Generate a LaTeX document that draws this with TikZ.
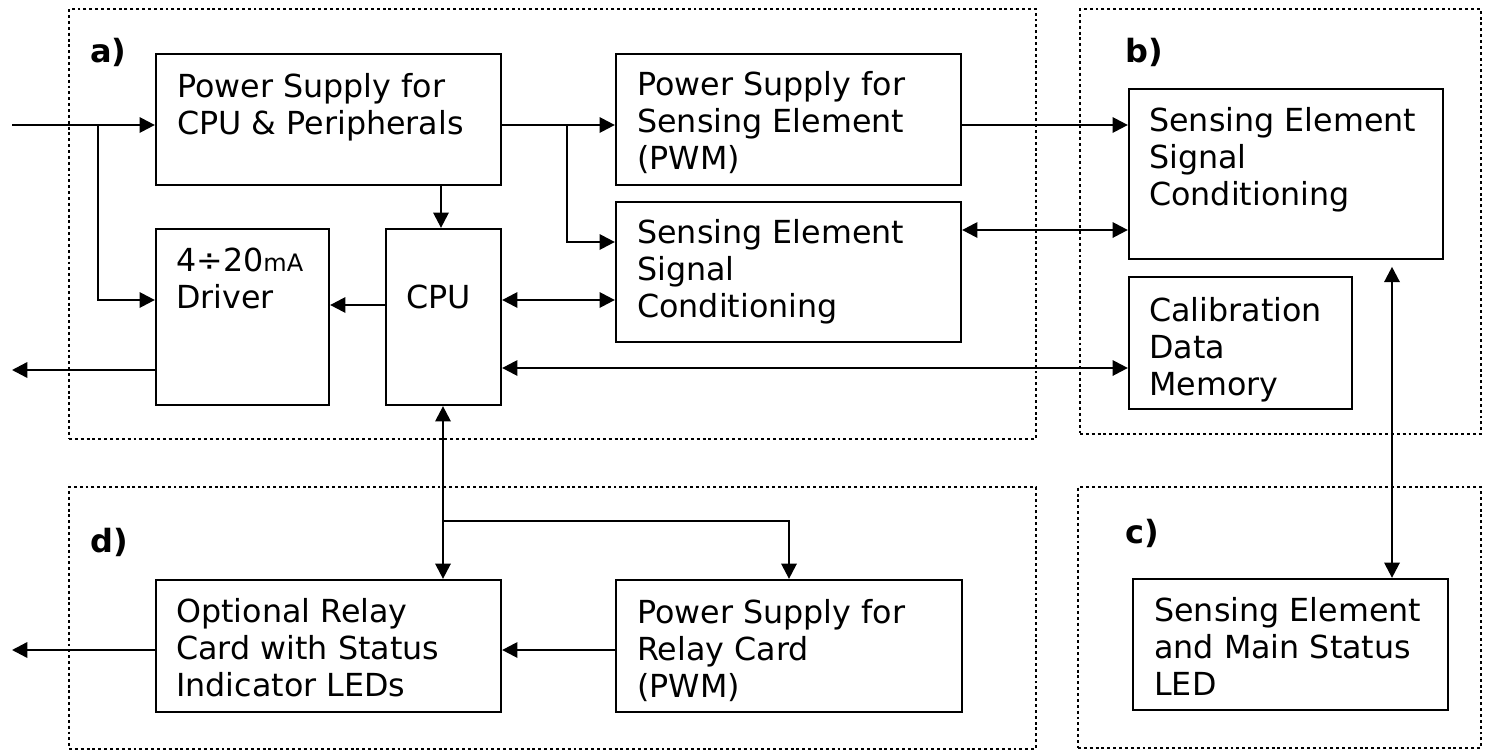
\documentclass[tikz,border=0pt]{standalone}
\usepackage{fontspec}
\setmainfont{DejaVu Sans}
\usetikzlibrary{arrows.meta,calc,fit}
\begin{document}
\begin{tikzpicture}[x=0.75pt,y=-0.75pt,
  box/.style={draw,line width=1.7pt,inner sep=0pt},
  frame/.style={draw,line width=2pt,dash pattern=on 2.2pt off 2.2pt,inner sep=0pt},
  txt/.style={anchor=base west,align=left,inner sep=0pt,font=\fontsize{23.8pt}{27.75pt}\selectfont},
  lbl/.style={anchor=base west,inner sep=0pt,font=\fontsize{24pt}{28pt}\selectfont\bfseries},
  arr/.style={line width=1.8pt,-{Triangle[length=11.5pt,width=11.5pt]}},
  darr/.style={line width=1.8pt,{Triangle[length=11.5pt,width=11.5pt]}-{Triangle[length=11.5pt,width=11.5pt]}}]
\useasboundingbox (0,0) rectangle (1486,753);
% frames
\node[frame,fit={(69,9) (1036,439)}] (fa) {};
\node[frame,fit={(1080,9) (1481,434)}] (fb) {};
\node[frame,fit={(1078,487) (1481,748)}] (fc) {};
\node[frame,fit={(69,487) (1036,749)}] (fd) {};
\node[lbl] (la) at (90,62) {a)};
\node[lbl] (lb) at (1125,62) {b)};
\node[lbl] (lc) at (1125,543) {c)};
\node[lbl] (ld) at (90,552) {d)};
% boxes
\node[box,fit={(156,54) (501,185)}] (pscpu) {};
\node[box,fit={(156,229) (329,405)}] (drv) {};
\node[box,fit={(386,229) (501,405)}] (cpu) {};
\node[box,fit={(616,54) (961,185)}] (pssen) {};
\node[box,fit={(616,202) (961,342)}] (sesc) {};
\node[box,fit={(1129,89) (1443,259)}] (bsesc) {};
\node[box,fit={(1129,277) (1352,409)}] (mem) {};
\node[box,fit={(1133,579) (1448,710)}] (led) {};
\node[box,fit={(156,580) (501,712)}] (relay) {};
\node[box,fit={(616,580) (962,712)}] (psrel) {};
% texts (anchor = baseline of last line)
\node[txt] (t-pscpu) at (177,134) {Power Supply for\\CPU \& Peripherals};
\node[txt] (t-drv) at (176,308) {4÷20{\fontsize{18pt}{20pt}\selectfont mA}\\Driver};
\node[txt] (t-cpu) at (406,308) {CPU};
\node[txt] (t-pssen) at (637,169) {Power Supply for\\Sensing Element\\(PWM)};
\node[txt] (t-sesc) at (637,317) {Sensing Element\\Signal\\Conditioning};
\node[txt] (t-bsesc) at (1149,205) {Sensing Element\\Signal\\Conditioning};
\node[txt] (t-mem) at (1149,395) {Calibration\\Data\\Memory};
\node[txt] (t-led) at (1154,695) {Sensing Element\\and Main Status\\LED};
\node[txt] (t-relay) at (176,696) {Optional Relay\\Card with Status\\Indicator LEDs};
\node[txt] (t-psrel) at (637,697) {Power Supply for\\Relay Card\\(PWM)};
% free ends and junctions
\coordinate (inL) at (12,125);
\coordinate (outD) at (12,370);
\coordinate (outR) at (12,650);
\coordinate (jA) at (98,125);
\coordinate (jB) at (567,125);
\coordinate (jC) at (443,521);
% connectors
\draw[arr] (inL) -- (inL -| pscpu.west);
\draw[arr] (jA) |- (drv.west |- 0,300);
\draw[arr] (pscpu.east |- 0,125) -- (pssen.west |- 0,125);
\draw[arr] (jB) |- (sesc.west |- 0,242);
\draw[arr] (pscpu.south -| 441,0) -- (cpu.north -| 441,0);
\draw[arr] (cpu.west |- 0,305) -- (drv.east |- 0,305);
\draw[arr] (drv.west |- 0,370) -- (outD);
\draw[darr] (cpu.east |- 0,300) -- (sesc.west |- 0,300);
\draw[darr] (sesc.east |- 0,230) -- (bsesc.west |- 0,230);
\draw[arr] (pssen.east |- 0,125) -- (bsesc.west |- 0,125);
\draw[darr] (cpu.east |- 0,368) -- (mem.west |- 0,368);
\draw[darr,shorten <=5pt] (bsesc.south -| 1392,0) -- (led.north -| 1392,0);
\draw[darr] (cpu.south -| 443,0) -- (relay.north -| 443,0);
\draw[arr] (jC) -| (psrel.north -| 789,0);
\draw[arr] (psrel.west |- 0,650) -- (relay.east |- 0,650);
\draw[arr] (relay.west |- 0,650) -- (outR);
\end{tikzpicture}
\end{document}
